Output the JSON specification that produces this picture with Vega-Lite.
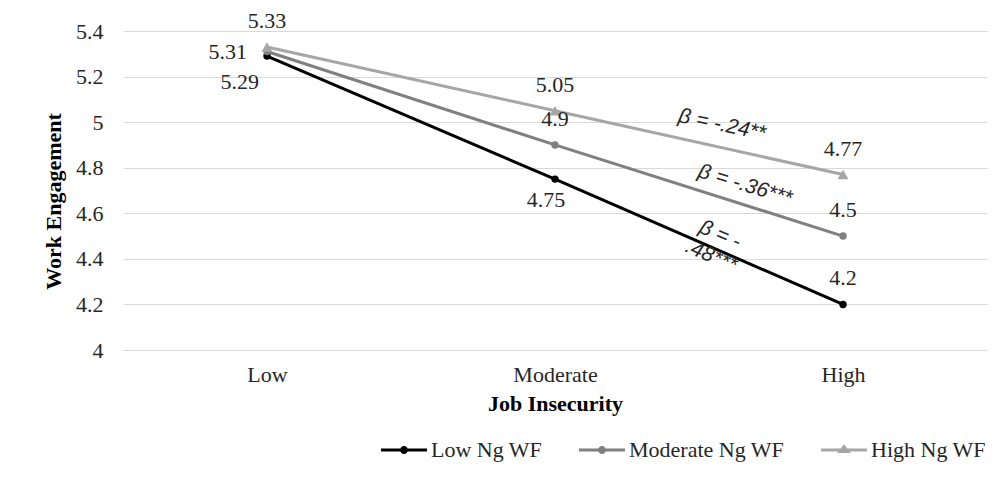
{
  "$schema": "https://vega.github.io/schema/vega-lite/v6.json",
  "width": 864,
  "height": 319,
  "autosize": {"type": "none"},
  "padding": {"left": 123, "top": 31, "right": 15, "bottom": 150},
  "background": "white",
  "config": {
    "view": {"stroke": null},
    "font": "Liberation Serif",
    "axis": {
      "labelFont": "Liberation Serif",
      "labelFontSize": 22,
      "labelColor": "#262626",
      "titleFont": "Liberation Serif",
      "titleFontSize": 22,
      "titleFontWeight": "bold",
      "titleColor": "#000000",
      "domain": false,
      "ticks": false
    },
    "legend": {
      "labelFont": "Liberation Serif",
      "labelFontSize": 22,
      "labelColor": "#262626",
      "symbolSize": 2116,
      "symbolStrokeWidth": 0,
      "symbolOpacity": 1,
      "labelOffset": 4,
      "columnPadding": 36,
      "padding": 0
    }
  },
  "data": {
    "values": [
      {"series": "Low Ng WF", "level": 1, "engagement": 5.29},
      {"series": "Low Ng WF", "level": 2, "engagement": 4.75},
      {"series": "Low Ng WF", "level": 3, "engagement": 4.2},
      {"series": "Moderate Ng WF", "level": 1, "engagement": 5.31},
      {"series": "Moderate Ng WF", "level": 2, "engagement": 4.9},
      {"series": "Moderate Ng WF", "level": 3, "engagement": 4.5},
      {"series": "High Ng WF", "level": 1, "engagement": 5.33},
      {"series": "High Ng WF", "level": 2, "engagement": 5.05},
      {"series": "High Ng WF", "level": 3, "engagement": 4.77}
    ]
  },
  "encoding": {
    "x": {
      "field": "level",
      "type": "quantitative",
      "scale": {"domain": [0.5, 3.5], "nice": false, "zero": false},
      "axis": {
        "values": [1, 2, 3],
        "labelExpr": "datum.value == 1 ? 'Low' : datum.value == 2 ? 'Moderate' : 'High'",
        "grid": false,
        "title": "Job Insecurity",
        "labelPadding": 14,
        "titlePadding": 8
      }
    },
    "y": {
      "field": "engagement",
      "type": "quantitative",
      "scale": {"domain": [4, 5.4], "nice": false, "zero": false},
      "axis": {
        "values": [4, 4.2, 4.4, 4.6, 4.8, 5, 5.2, 5.4],
        "format": "~g",
        "grid": true,
        "gridColor": "#d9d9d9",
        "gridWidth": 1,
        "labelPadding": 20,
        "title": "Work Engagement",
        "titlePadding": 10,
        "titleY": 170
      }
    }
  },
  "layer": [
    {
      "transform": [{"filter": "false"}],
      "mark": {"type": "point", "filled": true, "size": 2116},
      "encoding": {
        "color": {
          "field": "series",
          "type": "nominal",
          "scale": {"domain": ["Low Ng WF", "Moderate Ng WF", "High Ng WF"], "range": ["#000000", "#808080", "#a6a6a6"]},
          "legend": {"title": null, "orient": "none", "legendX": 258, "legendY": 396, "direction": "horizontal"}
        },
        "shape": {
          "field": "series",
          "type": "nominal",
          "scale": {
            "domain": ["Low Ng WF", "Moderate Ng WF", "High Ng WF"],
            "range": [
              "M-1,-0.065H1V0.065H-1Z M0.174,0A0.174,0.174 0 1,1 -0.174,0A0.174,0.174 0 1,1 0.174,0Z",
              "M-1,-0.065H1V0.065H-1Z M0.174,0A0.174,0.174 0 1,1 -0.174,0A0.174,0.174 0 1,1 0.174,0Z",
              "M-1,-0.065H1V0.065H-1Z M0,-0.25L0.3,0.13L-0.3,0.13Z"
            ]
          },
          "legend": {"title": null, "orient": "none", "legendX": 258, "legendY": 396, "direction": "horizontal"}
        }
      }
    },
    {
      "mark": {"type": "line", "strokeWidth": 3},
      "encoding": {
        "color": {"field": "series", "type": "nominal", "legend": null}
      }
    },
    {
      "transform": [{"filter": "datum.series != 'High Ng WF'"}],
      "mark": {"type": "point", "shape": "circle", "filled": true, "size": 55, "opacity": 1},
      "encoding": {
        "color": {"field": "series", "type": "nominal", "legend": null}
      }
    },
    {
      "transform": [{"filter": "datum.series == 'High Ng WF'"}],
      "mark": {"type": "point", "shape": "triangle-up", "filled": true, "size": 120, "opacity": 1},
      "encoding": {
        "color": {"field": "series", "type": "nominal", "legend": null}
      }
    },
    {
      "transform": [{"filter": "datum.series == 'High Ng WF' || (datum.series == 'Moderate Ng WF' && datum.level > 1) || (datum.series == 'Low Ng WF' && datum.level == 3)"}],
      "mark": {"type": "text", "font": "Liberation Serif", "fontSize": 22, "color": "#262626", "align": "center", "baseline": "middle", "dy": -26},
      "encoding": {"text": {"field": "engagement", "type": "nominal"}}
    },
    {
      "transform": [{"filter": "datum.series == 'Moderate Ng WF' && datum.level == 1"}],
      "mark": {"type": "text", "font": "Liberation Serif", "fontSize": 22, "color": "#262626", "align": "right", "baseline": "middle", "dx": -20},
      "encoding": {"text": {"field": "engagement", "type": "nominal"}}
    },
    {
      "transform": [{"filter": "datum.series == 'Low Ng WF' && datum.level == 1"}],
      "mark": {"type": "text", "font": "Liberation Serif", "fontSize": 22, "color": "#262626", "align": "right", "baseline": "middle", "dx": -8, "dy": 26},
      "encoding": {"text": {"field": "engagement", "type": "nominal"}}
    },
    {
      "transform": [{"filter": "datum.series == 'Low Ng WF' && datum.level == 2"}],
      "mark": {"type": "text", "font": "Liberation Serif", "fontSize": 22, "color": "#262626", "align": "center", "baseline": "middle", "dx": -9, "dy": 21},
      "encoding": {"text": {"field": "engagement", "type": "nominal"}}
    },
    {
      "data": {"values": [{"level": 2.58, "engagement": 4.987, "note": "β = -.24**"}]},
      "mark": {"type": "text", "font": "Liberation Sans", "fontStyle": "italic", "fontSize": 21, "color": "#262626", "align": "center", "baseline": "middle", "angle": 12},
      "encoding": {"text": {"field": "note", "type": "nominal"}}
    },
    {
      "data": {"values": [{"level": 2.66, "engagement": 4.723, "note": "β = -.36***"}]},
      "mark": {"type": "text", "font": "Liberation Sans", "fontStyle": "italic", "fontSize": 21, "color": "#262626", "align": "center", "baseline": "middle", "angle": 17},
      "encoding": {"text": {"field": "note", "type": "nominal"}}
    },
    {
      "data": {"values": [{"level": 2.573, "engagement": 4.505, "note": "β = -\n.48***"}]},
      "mark": {"type": "text", "font": "Liberation Sans", "fontStyle": "italic", "fontSize": 21, "color": "#262626", "align": "center", "baseline": "middle", "angle": 23, "lineBreak": "\n"},
      "encoding": {"text": {"field": "note", "type": "nominal"}}
    }
  ]
}
